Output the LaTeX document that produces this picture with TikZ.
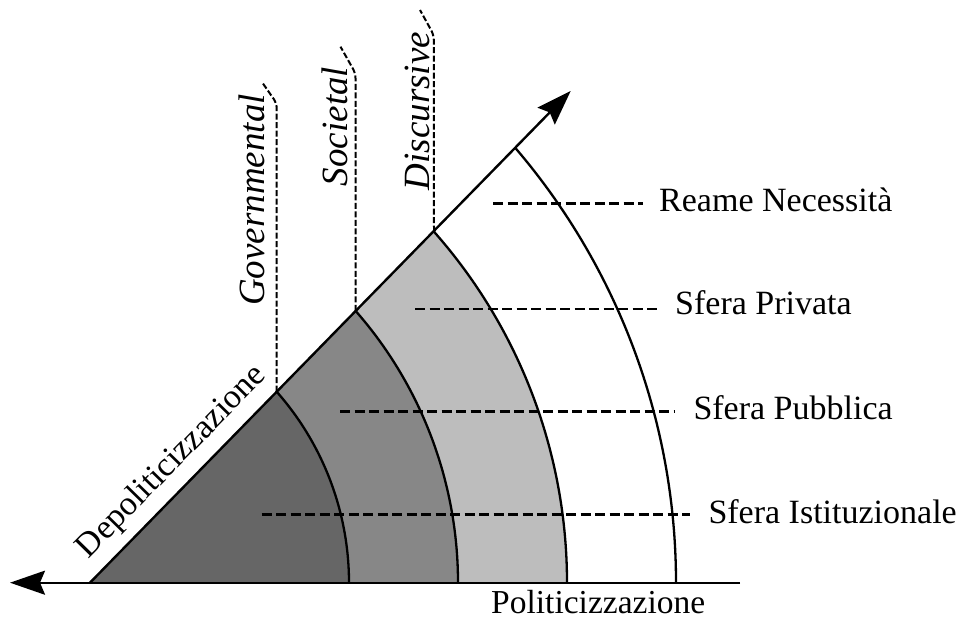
\documentclass[tikz,border=0pt]{standalone}
\usepackage{fontspec}
\setmainfont{Liberation Serif}
\usetikzlibrary{arrows.meta,calc}
\definecolor{gA}{HTML}{666666}
\definecolor{gB}{HTML}{878787}
\definecolor{gC}{HTML}{BDBDBD}
\begin{document}
\begin{tikzpicture}[x=1pt,y=1pt,
  axis/.style={line width=2.4pt,-{Stealth[length=35pt,width=24pt,inset=5pt]}},
  arcline/.style={line width=2.3pt},
  guide/.style={line width=2.6pt,dash pattern=on 10pt off 4.5pt},
  vguide/.style={line width=2pt,dash pattern=on 6pt off 2.5pt,rounded corners=5pt},
  lbl/.style={font=\fontsize{34}{38}\selectfont,inner sep=0pt,anchor=base west},
  vlbl/.style={font=\fontsize{37}{40}\selectfont\itshape,inner sep=0pt,rotate=90,anchor=base}
]
\useasboundingbox (0,0) rectangle (964,619);
% key points
\coordinate (O) at (90,36.3);
\coordinate (L) at (10,36.3);
\coordinate (R) at (740,36.3);
\coordinate (D) at (570.7,528);
\coordinate (B1) at (349,36.3);
\coordinate (B2) at (458,36.3);
\coordinate (B3) at (567,36.3);
\coordinate (B4) at (676,36.3);
\coordinate (T1) at (276.7,227.3);
\coordinate (T2) at (355.7,308);
\coordinate (T3) at (434,387.3);
% fills
\fill[gC] (O) -- (B3) arc[start angle=0,end angle=41.50,radius=529.7] -- cycle;
\fill[gB] (O) -- (B2) arc[start angle=0,end angle=41.26,radius=412] -- cycle;
\fill[gA] (O) -- (B1) arc[start angle=0,end angle=41.47,radius=288.4] -- cycle;
% arcs
\draw[arcline] (B1) arc[start angle=0,end angle=41.47,radius=288.4];
\draw[arcline] (B2) arc[start angle=0,end angle=41.26,radius=412];
\draw[arcline] (B3) arc[start angle=0,end angle=41.50,radius=529.7];
\draw[arcline] (B4) arc[start angle=0,end angle=40.51,radius=668.7];
% axes
\draw[axis] (R) -- (L);
\draw[axis] (O) -- (D);
% horizontal guides and labels
\node[lbl] (tRN) at (659,407.3) {Reame Necessità};
\node[lbl] (tSP) at (675,304) {Sfera Privata};
\node[lbl] (tPU) at (693.3,199) {Sfera Pubblica};
\node[lbl] (tSI) at (708.3,95.7) {Sfera Istituzionale};
\coordinate (rnA) at (493,415.7);  \coordinate (rnB) at (643,415.7);
\coordinate (spA) at (415,310);    \coordinate (spB) at (658.3,310);
\coordinate (puA) at (340,207.3);  \coordinate (puB) at (675,207.3);
\coordinate (siA) at (261.7,104.7);\coordinate (siB) at (690,104.7);
\draw[guide] (rnA) -- (rnB);
\draw[guide] (spA) -- (spB);
\draw[guide] (puA) -- (puB);
\draw[guide] (siA) -- (siB);
% vertical guides
\coordinate (g1) at (276.7,515.7); \coordinate (g1e) at (261.7,537.3);
\coordinate (g2) at (355.5,545.7); \coordinate (g2e) at (340.5,572.3);
\coordinate (g3) at (433.8,584);   \coordinate (g3e) at (420,609);
\draw[vguide] (T1) -- (g1) -- (g1e);
\draw[vguide] (T2) -- (g2) -- (g2e);
\draw[vguide] (T3) -- (g3) -- (g3e);
\node[vlbl] (lGov) at (264,419) {Governmental};
\node[vlbl] (lSoc) at (347,492.5) {Societal};
\node[vlbl] (lDis) at (429,508) {Discursive};
% axis labels
\node[font=\fontsize{34}{38}\selectfont,inner sep=0pt,anchor=base,rotate=45.6] (lDep) at (178,151) {Depoliticizzazione};
\node[font=\fontsize{33.5}{38}\selectfont,inner sep=0pt,anchor=base west] (lPol) at (491,5.7) {Politicizzazione};
\end{tikzpicture}
\end{document}
